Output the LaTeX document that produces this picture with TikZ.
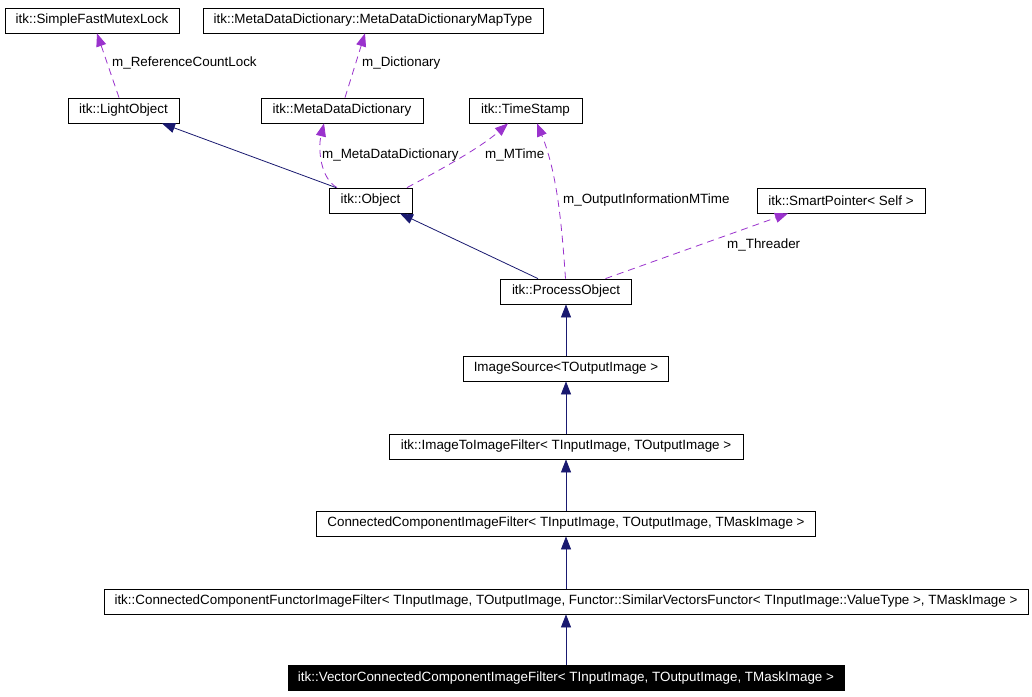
\documentclass[tikz,border=0pt]{standalone}
\usepackage{fontspec}
\setmainfont{Liberation Sans}
\usetikzlibrary{arrows.meta,calc}
\definecolor{navyc}{HTML}{191970}
\definecolor{purpc}{HTML}{9A32CD}
\begin{document}
\begin{tikzpicture}[x=1pt,y=-1pt,
  cls/.style={draw=black, line width=0.8pt, inner sep=0pt, minimum height=25pt,
              font=\fontsize{13.4}{15}\selectfont, text=black},
  inh/.style={draw=navyc, line width=0.8pt, -{Triangle[width=10pt,length=13pt,fill=navyc]}},
  use/.style={draw=purpc, line width=0.8pt, dash pattern=on 7pt off 5pt,
              -{Triangle[width=10pt,length=13pt,fill=purpc]}},
  lbl/.style={font=\fontsize{13.4}{15}\selectfont, anchor=west, inner sep=0pt, text=black}]
\useasboundingbox (0,0) rectangle (1032,696);
\fill[white] (0,0) rectangle (1032,696);

\node[cls, minimum width=174pt] (sfml) at (92,20.5) {itk::SimpleFastMutexLock};
\node[cls, minimum width=340pt] (mddmt) at (373,20.5) {itk::MetaDataDictionary::MetaDataDictionaryMapType};
\node[cls, minimum width=111pt] (light) at (123.5,110.5) {itk::LightObject};
\node[cls, minimum width=162pt] (mdd) at (342,110.5) {itk::MetaDataDictionary};
\node[cls, minimum width=113pt] (ts) at (525.5,110.5) {itk::TimeStamp};
\node[cls, minimum width=83pt] (obj) at (370.5,200.5) {itk::Object};
\node[cls, minimum width=168pt] (sp) at (841,200.5) {itk::SmartPointer< Self >};
\node[cls, minimum width=131pt] (po) at (566,291.5) {itk::ProcessObject};
\node[cls, minimum width=205pt] (is) at (566,368.5) {ImageSource<TOutputImage >};
\node[cls, minimum width=354pt] (itif) at (566,446.5) {itk::ImageToImageFilter< TInputImage, TOutputImage >};
\node[cls, minimum width=499pt] (ccif) at (566,523.5) {ConnectedComponentImageFilter< TInputImage, TOutputImage, TMaskImage >};
\node[cls, minimum width=924pt] (ccfif) at (566,601.5) {itk::ConnectedComponentFunctorImageFilter< TInputImage, TOutputImage, Functor::SimilarVectorsFunctor< TInputImage::ValueType >, TMaskImage >};
\node[cls, minimum width=556pt, fill=black, text=white] (vec) at (566,678) {itk::VectorConnectedComponentImageFilter< TInputImage, TOutputImage, TMaskImage >};

% usage (dashed) relations
\draw[use] ([xshift=-4.5pt]light.north) -- ([xshift=5pt]sfml.south);
\node[lbl] (l1) at (112,63) {m\_ReferenceCountLock};
\draw[use] ([xshift=3pt]mdd.north) -- ([xshift=-8pt]mddmt.south);
\node[lbl] (l2) at (362,63) {m\_Dictionary};
\draw[use] ([xshift=-33.5pt]obj.north) .. controls (320,178) and (318,148) .. ([xshift=-18pt]mdd.south);
\node[lbl] (l3) at (322,155) {m\_MetaDataDictionary};
\draw[use] ([xshift=36.5pt]obj.north) .. controls (440,170) and (480,148) .. ([xshift=-17.5pt]ts.south);
\node[lbl] (l4) at (485,155) {m\_MTime};
\draw[use] ([xshift=-0.5pt]po.north) .. controls (562,230) and (558,175) .. ([xshift=11.5pt]ts.south);
\node[lbl] (l5) at (563,200) {m\_OutputInformationMTime};
\draw[use] ([xshift=39.5pt]po.north) -- ([xshift=-53pt]sp.south);
\node[lbl] (l6) at (727,245) {m\_Threader};

% inheritance
\draw[inh] ([xshift=-34.5pt]obj.north) -- ([xshift=38.5pt]light.south);
\draw[inh] ([xshift=-28pt]po.north) -- ([xshift=29.5pt]obj.south);
\draw[inh] (is.north) -- (po.south);
\draw[inh] (itif.north) -- (is.south);
\draw[inh] (ccif.north) -- (itif.south);
\draw[inh] (ccfif.north) -- (ccif.south);
\draw[inh] (vec.north) -- (ccfif.south);
\end{tikzpicture}
\end{document}
